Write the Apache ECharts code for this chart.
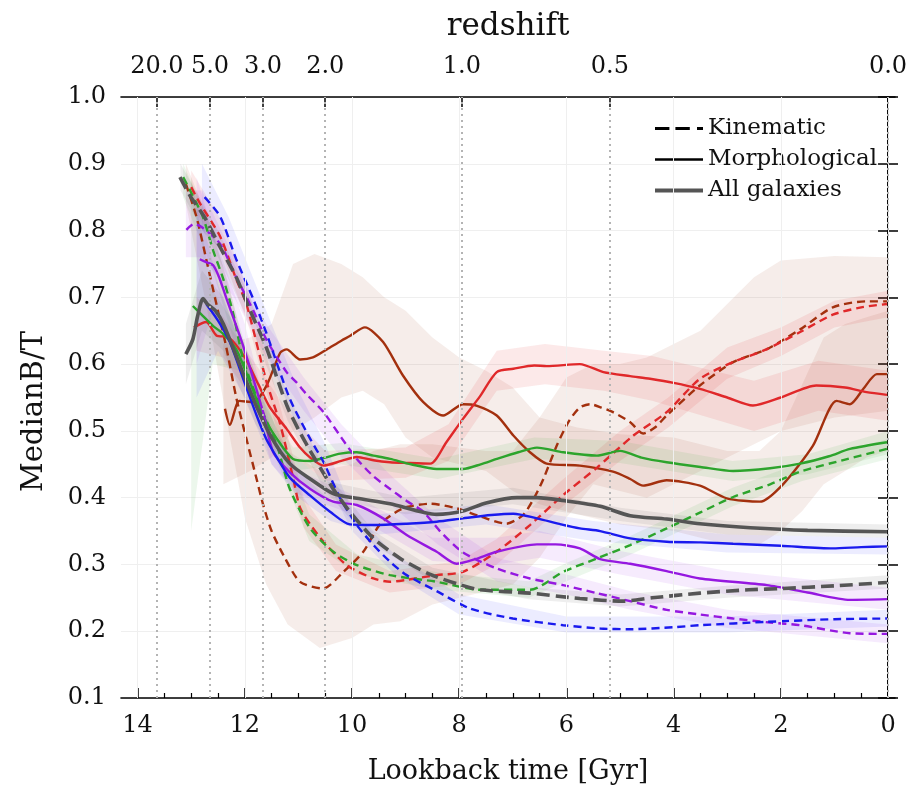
<!DOCTYPE html>
<html><head><meta charset="utf-8">
<script src="https://cdn.jsdelivr.net/npm/echarts@6/dist/echarts.min.js"></script>
<style>html,body{margin:0;padding:0;background:#fff}#c{width:912px;height:790px}</style>
</head><body><div id="c"></div>
<script>
// ---- axis / tick data ----
const X_TICKS = [0, 2, 4, 6, 8, 10, 12, 14];
const X_MINOR = [0.5, 1, 1.5, 2.5, 3, 3.5, 4.5, 5, 5.5, 6.5, 7, 7.5, 8.5, 9, 9.5, 10.5, 11, 11.5, 12.5, 13, 13.5];
const Z_LABELS = ['20.0', '5.0', '3.0', '2.0', '1.0', '0.5', '0.0'];
const Z_LOOKBACK = [13.64, 12.65, 11.66, 10.50, 7.95, 5.19, 0.0];

// ---- median lines [lookback Gyr, B/T] ----
const GREY_MORPH = [[13.1,0.615],[12.97,0.637],[12.88,0.672],[12.78,0.698],[12.7,0.69],[12.55,0.68],[12.4,0.66],[12.1,0.6],[11.8,0.54],[11.5,0.49],[11.16,0.451],[10.78,0.428],[10.35,0.406],[9.91,0.399],[9.29,0.391],[8.42,0.375],[7.93,0.38],[7.5,0.392],[6.92,0.40],[6.55,0.40],[6.0,0.395],[5.37,0.387],[4.81,0.373],[4.13,0.368],[3.51,0.361],[2.57,0.355],[1.5,0.351],[0.02,0.349]];
const GREY_KIN = [[13.21,0.88],[13.02,0.852],[12.75,0.82],[12.46,0.775],[12.16,0.73],[11.9,0.68],[11.6,0.625],[11.2,0.535],[10.85,0.48],[10.35,0.413],[10.04,0.379],[9.6,0.339],[9.1,0.309],[8.54,0.285],[8.0,0.27],[7.61,0.262],[6.68,0.257],[5.75,0.249],[4.94,0.245],[4.4,0.25],[3.51,0.257],[2.6,0.262],[1.96,0.264],[1.0,0.268],[0.02,0.273]];
const BLUE_MORPH = [[12.72,0.69],[12.5,0.665],[12.28,0.633],[12.03,0.578],[11.78,0.523],[11.6,0.488],[11.4,0.46],[11.16,0.43],[10.78,0.403],[10.41,0.379],[10.04,0.36],[9.6,0.359],[8.98,0.361],[8.42,0.364],[7.93,0.369],[7.4,0.374],[6.99,0.376],[6.55,0.369],[6.1,0.36],[5.75,0.354],[5.37,0.35],[4.81,0.339],[4.13,0.334],[3.5,0.333],[2.89,0.331],[2.0,0.328],[1.03,0.324],[0.5,0.326],[0.02,0.327]];
const BLUE_KIN = [[12.75,0.85],[12.46,0.821],[12.16,0.757],[11.84,0.697],[11.6,0.647],[11.16,0.548],[10.78,0.488],[10.53,0.453],[10.22,0.399],[9.91,0.359],[9.6,0.329],[9.29,0.304],[8.98,0.284],[8.42,0.26],[7.8,0.234],[7.0,0.219],[6.06,0.209],[5.37,0.204],[4.81,0.203],[4.0,0.206],[3.51,0.209],[2.26,0.214],[1.0,0.218],[0.02,0.219]];
const PURPLE_MORPH = [[12.84,0.757],[12.7,0.752],[12.59,0.748],[12.48,0.73],[12.35,0.70],[12.03,0.627],[11.66,0.528],[11.47,0.468],[11.16,0.438],[10.78,0.413],[10.35,0.394],[9.91,0.389],[9.42,0.369],[8.98,0.344],[8.42,0.319],[8.05,0.301],[7.7,0.308],[7.3,0.319],[6.55,0.33],[6.2,0.33],[5.75,0.324],[5.37,0.308],[4.81,0.301],[4.13,0.29],[3.51,0.279],[2.26,0.269],[1.5,0.258],[0.71,0.247],[0.02,0.248]];
const PURPLE_KIN = [[13.09,0.801],[12.95,0.81],[12.8,0.805],[12.46,0.78],[12.16,0.73],[11.84,0.68],[11.6,0.637],[11.22,0.588],[11.04,0.573],[10.85,0.555],[10.53,0.528],[10.2,0.49],[9.91,0.458],[9.6,0.432],[9.29,0.413],[8.98,0.395],[8.67,0.379],[8.36,0.35],[7.93,0.318],[7.3,0.294],[6.68,0.279],[6.06,0.269],[5.43,0.257],[4.81,0.245],[4.13,0.232],[3.5,0.225],[2.89,0.219],[2.2,0.213],[1.64,0.209],[0.71,0.197],[0.02,0.196]];
const GREEN_MORPH = [[12.97,0.687],[12.78,0.672],[12.59,0.657],[12.4,0.645],[12.16,0.622],[11.9,0.572],[11.66,0.523],[11.4,0.488],[11.1,0.458],[10.78,0.455],[10.5,0.46],[10.22,0.466],[9.91,0.468],[9.6,0.463],[9.29,0.458],[8.9,0.45],[8.42,0.443],[7.93,0.443],[7.6,0.45],[7.3,0.458],[6.9,0.468],[6.55,0.475],[6.06,0.468],[5.43,0.463],[5.0,0.47],[4.6,0.46],[4.13,0.453],[3.5,0.446],[2.89,0.44],[2.2,0.444],[1.64,0.451],[1.1,0.462],[0.71,0.473],[0.02,0.483]];
const GREEN_KIN = [[13.15,0.88],[13.02,0.86],[12.78,0.82],[12.59,0.77],[12.4,0.727],[12.22,0.677],[12.03,0.607],[11.72,0.538],[11.4,0.478],[11.16,0.413],[10.78,0.354],[10.35,0.319],[9.91,0.299],[9.29,0.284],[8.42,0.274],[7.61,0.262],[6.68,0.262],[6.06,0.289],[5.43,0.309],[4.81,0.329],[4.13,0.354],[3.5,0.378],[2.89,0.401],[2.2,0.42],[1.64,0.439],[0.8,0.457],[0.02,0.473]];
const RED_MORPH = [[12.95,0.655],[12.72,0.663],[12.53,0.643],[12.3,0.64],[12.0,0.61],[11.75,0.57],[11.53,0.535],[11.22,0.503],[10.97,0.475],[10.78,0.46],[10.53,0.448],[10.2,0.455],[9.91,0.461],[9.6,0.456],[9.29,0.453],[8.98,0.452],[8.54,0.451],[8.24,0.483],[7.93,0.518],[7.61,0.552],[7.3,0.588],[6.99,0.593],[6.6,0.598],[6.37,0.597],[5.75,0.6],[5.31,0.588],[4.81,0.582],[4.44,0.578],[4.0,0.572],[3.51,0.563],[3.0,0.55],[2.52,0.538],[2.0,0.55],[1.34,0.568],[0.8,0.565],[0.4,0.558],[0.02,0.554]];
const RED_KIN = [[13.0,0.865],[12.84,0.841],[12.46,0.791],[12.16,0.727],[11.97,0.69],[11.6,0.575],[11.34,0.51],[11.1,0.43],[10.97,0.385],[10.78,0.36],[10.53,0.334],[10.1,0.299],[9.6,0.279],[9.29,0.274],[8.98,0.277],[8.42,0.284],[7.93,0.289],[7.3,0.319],[6.68,0.359],[6.06,0.404],[5.43,0.445],[4.75,0.493],[4.13,0.528],[3.51,0.578],[2.89,0.603],[2.27,0.622],[1.64,0.648],[1.03,0.674],[0.5,0.685],[0.02,0.69]];
const BROWN_MORPH = [[12.37,0.533],[12.28,0.509],[12.1,0.545],[11.84,0.543],[11.6,0.567],[11.34,0.617],[11.22,0.622],[10.97,0.607],[10.73,0.61],[10.47,0.622],[10.2,0.635],[10.04,0.642],[9.76,0.655],[9.42,0.633],[9.05,0.583],[8.67,0.543],[8.3,0.523],[7.93,0.54],[7.68,0.538],[7.3,0.523],[6.99,0.493],[6.68,0.468],[6.37,0.451],[5.75,0.448],[5.13,0.439],[4.81,0.428],[4.57,0.418],[4.13,0.426],[3.51,0.418],[3.01,0.399],[2.39,0.394],[1.96,0.42],[1.4,0.478],[0.96,0.545],[0.71,0.54],[0.46,0.563],[0.21,0.585],[0.02,0.585]];
const BROWN_KIN = [[13.1,0.87],[12.9,0.82],[12.7,0.75],[12.53,0.69],[12.35,0.627],[12.16,0.55],[11.97,0.488],[11.78,0.428],[11.66,0.39],[11.5,0.35],[11.28,0.314],[10.97,0.274],[10.54,0.264],[10.16,0.289],[9.79,0.319],[9.48,0.36],[9.17,0.379],[8.98,0.386],[8.54,0.391],[8.05,0.384],[7.61,0.372],[7.12,0.361],[6.81,0.374],[6.6,0.40],[6.43,0.428],[6.18,0.478],[5.95,0.515],[5.75,0.535],[5.56,0.54],[5.35,0.535],[5.13,0.528],[4.81,0.513],[4.57,0.496],[4.35,0.505],[4.13,0.523],[3.51,0.568],[2.89,0.603],[2.27,0.622],[1.64,0.652],[1.03,0.685],[0.41,0.694],[0.02,0.694]];

// ---- shaded bands [lookback Gyr, lower, upper] ----
const BAND_GREY_MORPH = [[13.1,0.57,0.66],[12.8,0.65,0.74],[12.4,0.62,0.70],[11.8,0.51,0.57],[11.2,0.435,0.47],[10.5,0.40,0.425],[9,0.375,0.40],[7,0.39,0.415],[5,0.365,0.385],[3,0.345,0.365],[0,0.34,0.36]];
const BAND_GREY_KIN = [[13.2,0.86,0.9],[12.5,0.76,0.8],[11.9,0.66,0.7],[11.2,0.515,0.555],[10.5,0.41,0.44],[9.6,0.33,0.35],[8.5,0.275,0.295],[6.7,0.248,0.266],[5,0.237,0.255],[3,0.25,0.268],[0,0.264,0.284]];
const BAND_BLUE_MORPH = [[12.9,0.55,0.85],[12.5,0.62,0.72],[12.0,0.55,0.61],[11.5,0.45,0.5],[11.0,0.40,0.44],[10.4,0.365,0.395],[9.5,0.345,0.375],[7.5,0.36,0.39],[5.5,0.335,0.365],[3,0.318,0.345],[0,0.315,0.34]];
const BAND_BLUE_KIN = [[12.8,0.8,0.9],[12.3,0.76,0.82],[11.6,0.62,0.68],[11.0,0.5,0.56],[10.5,0.43,0.48],[10.0,0.35,0.38],[9.2,0.285,0.315],[8.0,0.225,0.255],[6.0,0.198,0.222],[3.0,0.198,0.222],[0,0.207,0.232]];
const BAND_PURPLE_MORPH = [[12.9,0.6,0.88],[12.6,0.68,0.8],[12.0,0.59,0.66],[11.5,0.45,0.5],[11.0,0.405,0.44],[10.0,0.375,0.405],[8.5,0.305,0.34],[7.3,0.3,0.34],[6.5,0.31,0.35],[5,0.285,0.32],[3,0.255,0.29],[0,0.232,0.265]];
const BAND_PURPLE_KIN = [[13.1,0.76,0.86],[12.8,0.76,0.86],[12.2,0.7,0.76],[11.6,0.61,0.66],[10.9,0.53,0.58],[10.2,0.46,0.51],[9.3,0.39,0.435],[8.4,0.33,0.37],[7.3,0.275,0.31],[6,0.255,0.285],[4.8,0.232,0.26],[3,0.205,0.232],[0,0.182,0.21]];
const BAND_GREEN_MORPH = [[13.0,0.35,0.88],[12.6,0.6,0.71],[12.1,0.59,0.65],[11.6,0.5,0.54],[11.1,0.44,0.475],[10.2,0.45,0.482],[8.4,0.428,0.458],[6.6,0.458,0.49],[5,0.452,0.485],[2.9,0.425,0.455],[1.5,0.435,0.465],[0,0.465,0.5]];
const BAND_GREEN_KIN = [[13.15,0.85,0.9],[12.6,0.74,0.8],[12.0,0.58,0.63],[11.4,0.455,0.5],[10.8,0.335,0.375],[9.9,0.285,0.315],[8.4,0.262,0.288],[6.7,0.25,0.275],[6.0,0.275,0.302],[4.8,0.315,0.343],[2.9,0.387,0.415],[1.6,0.425,0.453],[0,0.458,0.488]];
const BAND_RED_MORPH = [[12.9,0.62,0.7],[12.4,0.61,0.67],[11.8,0.54,0.6],[11.2,0.47,0.53],[10.5,0.425,0.47],[9.0,0.43,0.475],[8.2,0.455,0.51],[7.3,0.56,0.62],[6.4,0.57,0.63],[5.3,0.56,0.62],[4.4,0.545,0.612],[2.5,0.5,0.575],[1.3,0.53,0.605],[0,0.515,0.59]];
const BAND_RED_KIN = [[13.0,0.84,0.89],[12.4,0.76,0.81],[11.9,0.65,0.7],[11.4,0.5,0.555],[10.9,0.355,0.4],[10.3,0.29,0.33],[9.3,0.258,0.29],[8.0,0.27,0.305],[7.3,0.3,0.338],[6.1,0.385,0.425],[5.0,0.455,0.5],[4.1,0.505,0.55],[3.0,0.578,0.625],[2.0,0.612,0.655],[1.0,0.655,0.695],[0,0.67,0.71]];
const BAND_BROWN_MORPH = [[12.4,0.42,0.63],[11.9,0.44,0.64],[11.5,0.46,0.66],[11.1,0.5,0.75],[10.7,0.52,0.765],[10.2,0.55,0.75],[9.8,0.56,0.73],[9.4,0.54,0.7],[9.0,0.49,0.68],[8.5,0.46,0.64],[8.0,0.45,0.61],[7.5,0.44,0.59],[7.0,0.41,0.565],[6.5,0.39,0.52],[5.8,0.375,0.505],[5.0,0.36,0.495],[4.0,0.35,0.49],[3.0,0.33,0.47],[2.4,0.33,0.47],[2.0,0.35,0.5],[1.6,0.38,0.57],[1.2,0.42,0.64],[0.8,0.44,0.66],[0.4,0.46,0.67],[0,0.47,0.68]];
const BAND_BROWN_KIN = [[13.1,0.84,0.9],[12.7,0.68,0.82],[12.3,0.5,0.72],[12.0,0.37,0.62],[11.6,0.27,0.52],[11.2,0.21,0.47],[10.6,0.175,0.44],[10.0,0.19,0.45],[9.6,0.21,0.47],[9.1,0.215,0.48],[8.5,0.24,0.48],[7.5,0.26,0.47],[7.0,0.27,0.47],[6.5,0.31,0.52],[6.0,0.37,0.58],[5.5,0.42,0.6],[5.0,0.41,0.6],[4.5,0.4,0.61],[4.0,0.42,0.63],[3.5,0.44,0.65],[3.0,0.46,0.69],[2.5,0.48,0.73],[2.0,0.5,0.755],[1.0,0.52,0.762],[0,0.53,0.76]];

const LEGEND_NAMES = ['Kinematic', 'Morphological', 'All galaxies'];

const FONT = 'DejaVu Serif';
const C = {grey:'#555555', blue:'#1a1aee', purple:'#9518e0', green:'#2ca42c', red:'#e0282a', brown:'#a3300e'};
const BANDFILL = {grey:'rgba(85,85,85,0.10)', blue:'rgba(40,40,255,0.09)', purple:'rgba(150,30,230,0.09)', green:'rgba(44,164,44,0.09)', red:'rgba(224,40,42,0.10)', brown:'rgba(165,75,45,0.10)'};

function band(arr, fill) {
  return {
    type: 'custom', xAxisIndex: 0, yAxisIndex: 0, z: 1, silent: true, clip: true,
    data: arr,
    renderItem: function (params, api) {
      if (params.dataIndex !== 0) return null;
      const lower = arr.map(p => api.coord([p[0], p[1]]));
      const upper = arr.slice().reverse().map(p => api.coord([p[0], p[2]]));
      return { type: 'polygon', shape: { points: lower.concat(upper) }, style: { fill: fill, stroke: null } };
    }
  };
}
function line(data, color, dashed, width, z) {
  return {
    type: 'line', xAxisIndex: 0, yAxisIndex: 0, data: data, showSymbol: false, symbol: 'none',
    smooth: 0.25, z: z || 3, silent: true,
    lineStyle: { color: color, width: width || 2.4, type: dashed ? (width > 3 ? [13, 6] : [8, 5]) : 'solid' }
  };
}
function legendSeries(name, color) {
  return { name: name, type: 'line', data: [], symbol: 'none', itemStyle: { color: color }, lineStyle: { color: color } };
}

const series = [
  band(BAND_BROWN_KIN, BANDFILL.brown), band(BAND_BROWN_MORPH, BANDFILL.brown),
  band(BAND_RED_KIN, BANDFILL.red), band(BAND_RED_MORPH, BANDFILL.red),
  band(BAND_GREEN_KIN, BANDFILL.green), band(BAND_GREEN_MORPH, BANDFILL.green),
  band(BAND_PURPLE_KIN, BANDFILL.purple), band(BAND_PURPLE_MORPH, BANDFILL.purple),
  band(BAND_BLUE_KIN, BANDFILL.blue), band(BAND_BLUE_MORPH, BANDFILL.blue),
  band(BAND_GREY_KIN, BANDFILL.grey), band(BAND_GREY_MORPH, BANDFILL.grey),
  {
    type: 'line', xAxisIndex: 0, yAxisIndex: 0, data: [], z: 0, silent: true,
    markLine: {
      silent: true, symbol: ['none', 'none'], label: { show: false }, animation: false,
      data: X_TICKS.map(v => ({ xAxis: v, lineStyle: { color: '#efefef', width: 1, type: 'solid' } }))
        .concat(Z_LOOKBACK.map(v => ({ xAxis: v, lineStyle: { color: '#b4b4b4', width: 2, type: [2, 4] } })))
    }
  },
  line(BROWN_MORPH, C.brown, false), line(BROWN_KIN, C.brown, true),
  line(RED_MORPH, C.red, false), line(RED_KIN, C.red, true),
  line(GREEN_MORPH, C.green, false), line(GREEN_KIN, C.green, true),
  line(PURPLE_MORPH, C.purple, false), line(PURPLE_KIN, C.purple, true),
  line(BLUE_MORPH, C.blue, false), line(BLUE_KIN, C.blue, true),
  line(GREY_MORPH, C.grey, false, 3.6, 4), line(GREY_KIN, C.grey, true, 3.6, 4),
  legendSeries(LEGEND_NAMES[0], '#000'),
  legendSeries(LEGEND_NAMES[1], '#000'),
  legendSeries(LEGEND_NAMES[2], C.grey)
];

const axisLineStyle = { color: '#000', width: 1.6 };
const option = {
  animation: false,
  backgroundColor: '#fff',
  textStyle: { fontFamily: FONT },
  grid: { left: 121, right: 17, top: 97, bottom: 90, show: false },
  legend: {
    left: 650, top: 112, orient: 'vertical', itemWidth: 48, itemHeight: 14, itemGap: 8,
    symbolKeepAspect: true,
    textStyle: { fontFamily: FONT, fontSize: 23, color: '#111', lineHeight: 23 },
    data: [
      { name: LEGEND_NAMES[0], icon: 'path://M0,0h12v2.3h-12z M17,0h12v2.3h-12z M35,0h5v2.3h-5z', itemStyle: { color: '#000' } },
      { name: LEGEND_NAMES[1], icon: 'path://M0,0h48v2.3h-48z', itemStyle: { color: '#000' } },
      { name: LEGEND_NAMES[2], icon: 'path://M0,0h48v3.8h-48z', itemStyle: { color: C.grey } }
    ],
    selectedMode: false
  },
  xAxis: [
    {
      type: 'value', position: 'bottom', min: -0.13, max: 14.31, inverse: true,
      axisLine: { show: true, lineStyle: axisLineStyle },
      axisTick: { show: true, inside: true, length: 10, lineStyle: { color: '#000', width: 1.5 }, customValues: X_TICKS },
      axisLabel: { customValues: X_TICKS, fontFamily: FONT, fontSize: 24, color: '#111', margin: 16, formatter: v => String(Math.round(v)) },
      splitLine: { show: false },
      name: 'Lookback time [Gyr]', nameLocation: 'middle', nameGap: 60,
      nameTextStyle: { fontFamily: FONT, fontSize: 27, color: '#111' }
    },
    {
      type: 'value', position: 'top', min: -0.13, max: 14.31, inverse: true,
      axisLine: { show: true, lineStyle: axisLineStyle },
      axisTick: { show: true, inside: true, length: 10, lineStyle: { color: '#000', width: 1.5 }, customValues: Z_LOOKBACK },
      axisLabel: {
        customValues: Z_LOOKBACK, fontFamily: FONT, fontSize: 24, color: '#111', margin: 18,
        formatter: v => { let k = 0, d = 1e9; Z_LOOKBACK.forEach((z, i) => { if (Math.abs(z - v) < d) { d = Math.abs(z - v); k = i; } }); return Z_LABELS[k]; }
      },
      splitLine: { show: false },
      name: 'redshift', nameLocation: 'middle', nameGap: 55,
      nameTextStyle: { fontFamily: FONT, fontSize: 31, color: '#111' }
    },
    {
      type: 'value', position: 'bottom', min: -0.13, max: 14.31, inverse: true,
      axisLine: { show: false },
      axisTick: { show: true, inside: true, length: 5, lineStyle: { color: '#000', width: 1.2 }, customValues: X_MINOR },
      axisLabel: { show: false }, splitLine: { show: false }
    }
  ],
  yAxis: [
    {
      type: 'value', position: 'left', min: 0.1, max: 1.0, interval: 0.1,
      axisLine: { show: true, lineStyle: axisLineStyle },
      axisTick: { show: true, inside: true, length: 10, lineStyle: { color: '#000', width: 1.5 } },
      axisLabel: { fontFamily: FONT, fontSize: 24, color: '#111', margin: 15, formatter: v => v.toFixed(1) },
      splitLine: { show: true, lineStyle: { color: '#efefef', width: 1 } },
      name: 'MedianB/T', nameLocation: 'middle', nameGap: 72, nameRotate: 90,
      nameTextStyle: { fontFamily: FONT, fontSize: 29, color: '#111', padding: [0, 28, 0, 0] }
    },
    {
      type: 'value', position: 'right', min: 0.1, max: 1.0, interval: 0.1,
      axisLine: { show: true, lineStyle: axisLineStyle },
      axisTick: { show: true, inside: true, length: 10, lineStyle: { color: '#000', width: 1.5 } },
      axisLabel: { show: false }, splitLine: { show: false }
    }
  ],
  series: series
};
const chart = echarts.init(document.getElementById('c'), null, { renderer: 'canvas' });
chart.setOption(option);
</script>
</body></html>
